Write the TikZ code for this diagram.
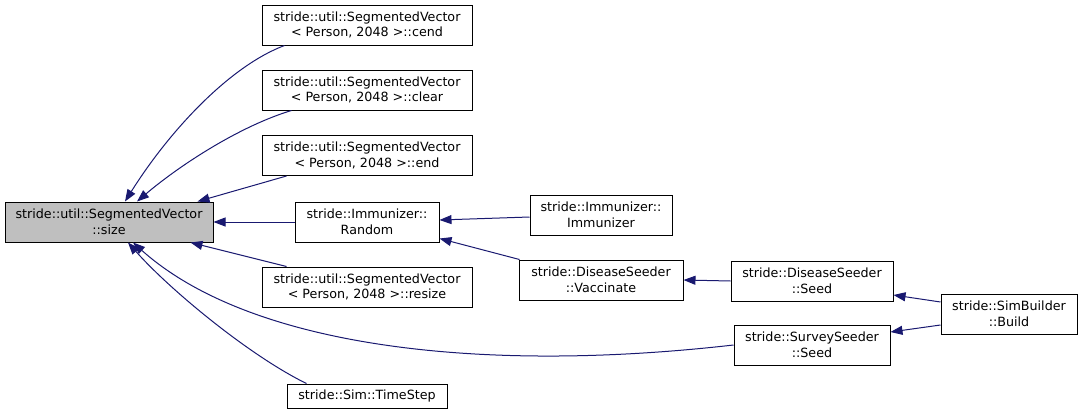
\documentclass[tikz,border=0pt]{standalone}
\usepackage{fontspec}
\setmainfont{DejaVu Sans}
\usetikzlibrary{arrows.meta}
\definecolor{edgeblue}{RGB}{25,25,112}
\definecolor{selgray}{RGB}{191,191,191}
\tikzset{
  fn/.style={draw=black, line width=1pt, fill=white, inner sep=0pt, align=center,
    font=\fontsize{12.7}{15.5}\selectfont, minimum height=40pt},
  call/.style={draw=edgeblue, line width=1pt, -{Triangle[length=12pt,width=9pt]}}
}
\begin{document}
\begin{tikzpicture}[x=1pt,y=-1pt]
\useasboundingbox (0,0) rectangle (1081,415);
\node[fn, fill=selgray, minimum width=208pt] (size) at (109,222) {stride::util::SegmentedVector\\::size};
\node[fn, minimum width=210pt] (cend) at (367,25) {stride::util::SegmentedVector\\< Person, 2048 >::cend};
\node[fn, minimum width=210pt] (clear) at (367,90) {stride::util::SegmentedVector\\< Person, 2048 >::clear};
\node[fn, minimum width=210pt] (end) at (367,155.5) {stride::util::SegmentedVector\\< Person, 2048 >::end};
\node[fn, minimum width=144pt] (random) at (367,222) {stride::Immunizer::\\Random};
\node[fn, minimum width=210pt] (resize) at (367,287) {stride::util::SegmentedVector\\< Person, 2048 >::resize};
\node[fn, minimum width=160pt, minimum height=24pt] (timestep) at (367,396) {stride::Sim::TimeStep};
\node[fn, minimum width=142pt] (immunizer) at (601,215) {stride::Immunizer::\\Immunizer};
\node[fn, minimum width=164pt] (vaccinate) at (601,280) {stride::DiseaseSeeder\\::Vaccinate};
\node[fn, minimum width=162pt] (dsseed) at (812,281) {stride::DiseaseSeeder\\::Seed};
\node[fn, minimum width=156pt] (ssseed) at (812,345) {stride::SurveySeeder\\::Seed};
\node[fn, minimum width=136pt] (build) at (1009,314) {stride::SimBuilder\\::Build};

\draw[call] ([xshift=23pt]cend.south west) .. controls (230,66) and (170,130) .. ([xshift=16pt]size.north);
\draw[call] ([xshift=30pt]clear.south west) .. controls (240,126) and (180,165) .. ([xshift=28pt]size.north);
\draw[call] ([xshift=25pt]end.south west) -- ([xshift=-16pt]size.north east);
\draw[call] (random.west) -- (size.east);
\draw[call] ([xshift=25pt]resize.north west) -- ([xshift=-23pt]size.south east);
\draw[call] ([xshift=20pt]timestep.north west) .. controls (250,356) and (170,290) .. ([xshift=19pt]size.south);
\draw[call] (ssseed.west) .. controls (480,374) and (250,347) .. ([xshift=24pt]size.south);
\draw[call] ([yshift=-2pt]immunizer.west) -- ([yshift=2pt]random.east);
\draw[call] ([xshift=1pt]vaccinate.north west) -- ([yshift=4pt]random.south east);
\draw[call] (dsseed.west) -- (vaccinate.east);
\draw[call] ([yshift=12pt]build.west) -- ([yshift=-14pt]dsseed.east);
\draw[call] ([yshift=-11pt]build.west) -- ([yshift=13pt]ssseed.east);
\end{tikzpicture}
\end{document}
